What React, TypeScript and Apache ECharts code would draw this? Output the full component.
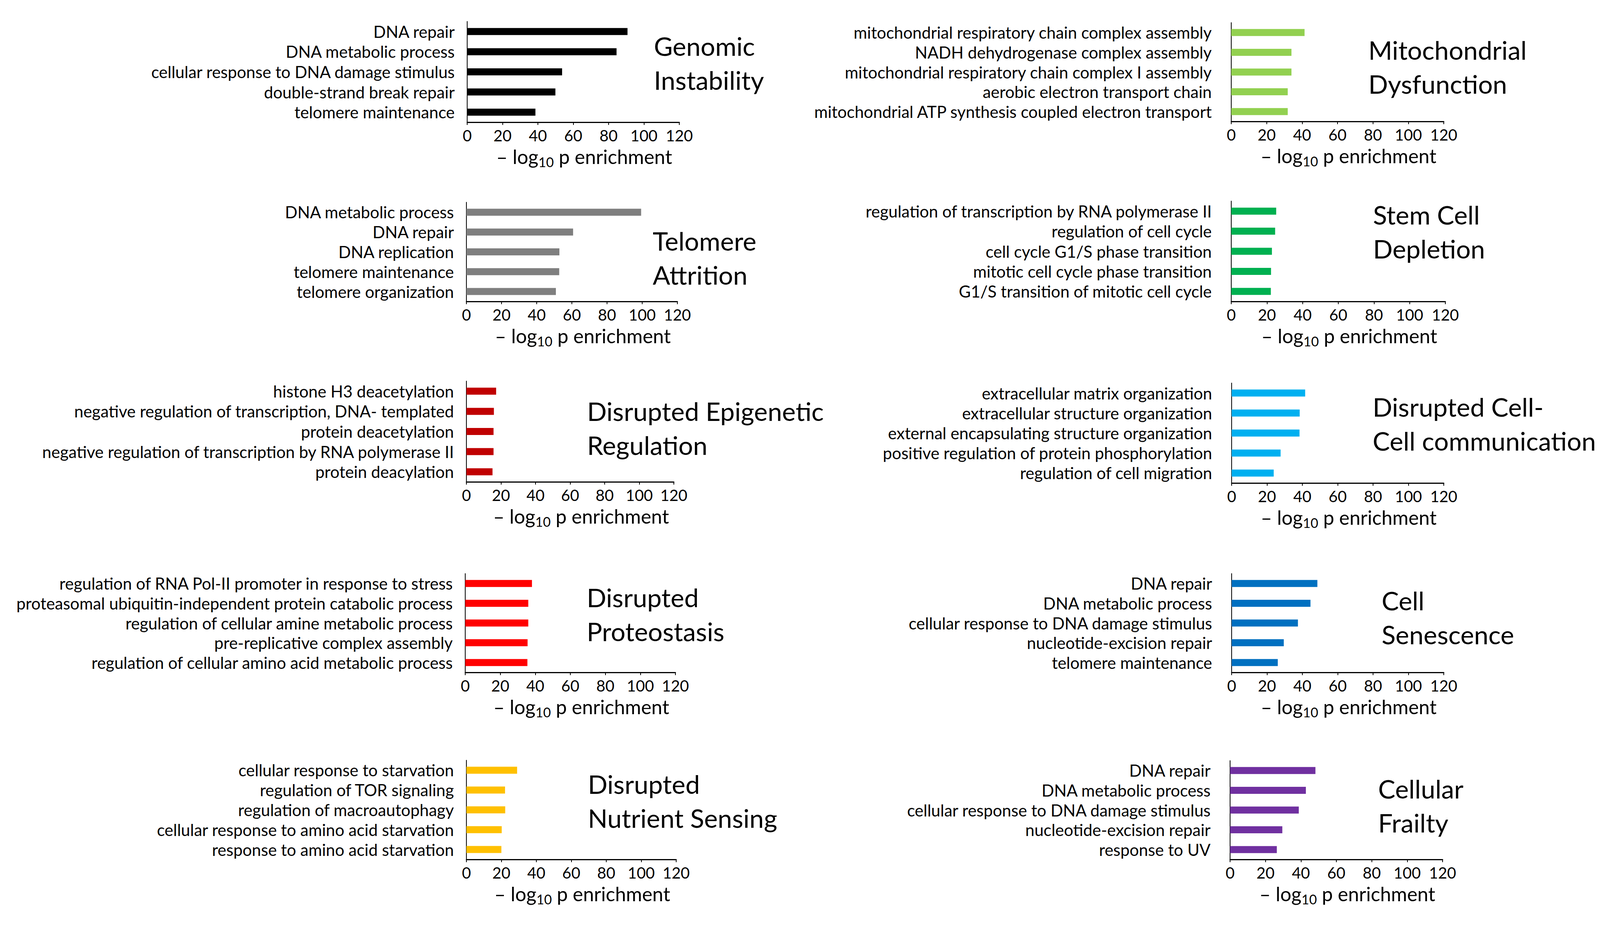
import React, { useEffect, useRef } from "react";
import * as echarts from "echarts";

// ---------- data ----------
const xMin = 0;
const xMax = 120;
const xStep = 20;

const genomicLabels = ["DNA repair", "DNA metabolic process", "cellular response to DNA damage stimulus", "double-strand break repair", "telomere maintenance"];
const genomicValues = [90.7, 84.5, 53.7, 49.9, 38.6];

const mitoLabels = ["mitochondrial respiratory chain complex assembly", "NADH dehydrogenase complex assembly", "mitochondrial respiratory chain complex I assembly", "aerobic electron transport chain", "mitochondrial ATP synthesis coupled electron transport"];
const mitoValues = [41.4, 34.0, 34.0, 31.9, 31.9];

const telomereLabels = ["DNA metabolic process", "DNA repair", "DNA replication", "telomere maintenance", "telomere organization"];
const telomereValues = [99.4, 60.7, 52.9, 52.8, 50.9];

const stemLabels = ["regulation of transcription by RNA polymerase II", "regulation of cell cycle", "cell cycle G1/S phase transition", "mitotic cell cycle phase transition", "G1/S transition of mitotic cell cycle"];
const stemValues = [25.2, 24.6, 22.8, 22.3, 22.2];

const epiLabels = ["histone H3 deacetylation", "negative regulation of transcription, DNA- templated", "protein deacetylation", "negative regulation of transcription by RNA polymerase II", "protein deacylation"];
const epiValues = [17.2, 15.9, 15.7, 15.7, 15.1];

const cellLabels = ["extracellular matrix organization", "extracellular structure organization", "external encapsulating structure organization", "positive regulation of protein phosphorylation", "regulation of cell migration"];
const cellValues = [41.6, 38.5, 38.4, 27.7, 23.8];

const proteoLabels = ["regulation of RNA Pol-II promoter in response to stress", "proteasomal ubiquitin-independent protein catabolic process", "regulation of cellular amine metabolic process", "pre-replicative complex assembly", "regulation of cellular amino acid metabolic process"];
const proteoValues = [38.1, 36.0, 36.0, 35.6, 35.5];

const senesLabels = ["DNA repair", "DNA metabolic process", "cellular response to DNA damage stimulus", "nucleotide-excision repair", "telomere maintenance"];
const senesValues = [48.5, 44.6, 37.5, 29.5, 26.1];

const nutrientLabels = ["cellular response to starvation", "regulation of TOR signaling", "regulation of macroautophagy", "cellular response to amino acid starvation", "response to amino acid starvation"];
const nutrientValues = [29.0, 22.1, 22.2, 20.2, 20.0];

const frailtyLabels = ["DNA repair", "DNA metabolic process", "cellular response to DNA damage stimulus", "nucleotide-excision repair", "response to UV"];
const frailtyValues = [48.2, 42.8, 38.8, 29.5, 26.4];

const titles = [
  "Genomic\nInstability",
  "Mitochondrial\nDysfunction",
  "Telomere\nAttrition",
  "Stem Cell\nDepletion",
  "Disrupted Epigenetic\nRegulation",
  "Disrupted Cell-\nCell communication",
  "Disrupted\nProteostasis",
  "Cell\nSenescence",
  "Disrupted\nNutrient Sensing",
  "Cellular\nFrailty",
];

// ---------- layout / style ----------
const FONT = "Lato, 'Open Sans', sans-serif";

const panels = [
  { labels: genomicLabels, values: genomicValues, color: "#000000", left: 1196, top: 55, width: 543, height: 258, tx: 1674, ty: 161, lm: 32 },
  { labels: mitoLabels, values: mitoValues, color: "#92D050", left: 3152, top: 58, width: 544, height: 253, tx: 3503, ty: 171, lm: 50 },
  { labels: telomereLabels, values: telomereValues, color: "#7F7F7F", left: 1194, top: 518, width: 540, height: 254, tx: 1671, ty: 660, lm: 32 },
  { labels: stemLabels, values: stemValues, color: "#00B050", left: 3152, top: 515, width: 548, height: 257, tx: 3515, ty: 593, lm: 50 },
  { labels: epiLabels, values: epiValues, color: "#C00000", left: 1194, top: 976, width: 531, height: 258, tx: 1503, ty: 1096, lm: 32 },
  { labels: cellLabels, values: cellValues, color: "#00B0F0", left: 3153, top: 981, width: 543, height: 256, tx: 3514, ty: 1085, lm: 50 },
  { labels: proteoLabels, values: proteoValues, color: "#FF0000", left: 1191, top: 1469, width: 538, height: 253, tx: 1502, ty: 1573, lm: 32 },
  { labels: senesLabels, values: senesValues, color: "#0070C0", left: 3153, top: 1469, width: 543, height: 253, tx: 3537, ty: 1581, lm: 50 },
  { labels: nutrientLabels, values: nutrientValues, color: "#FFC000", left: 1194, top: 1947, width: 537, height: 254, tx: 1505, ty: 2051, lm: 32 },
  { labels: frailtyLabels, values: frailtyValues, color: "#7030A0", left: 3149, top: 1948, width: 544, height: 253, tx: 3528, ty: 2063, lm: 50 },
];

function buildOption() {
  const grid = panels.map((p) => ({ left: p.left, top: p.top, width: p.width, height: p.height, containLabel: false }));
  const xAxis = panels.map((p, i) => ({
    type: "value",
    gridIndex: i,
    min: xMin,
    max: xMax,
    interval: xStep,
    splitLine: { show: false },
    axisLine: { show: true, onZero: false, lineStyle: { color: "#000", width: 3 } },
    axisTick: { show: true, length: 7, lineStyle: { color: "#000", width: 2 } },
    axisLabel: { color: "#000", fontSize: 40, fontFamily: FONT, margin: 14 },
    name: "{a|– log}{s|10}{a| p enrichment}",
    nameLocation: "middle",
    nameGap: 58,
    nameTextStyle: {
      padding: [0, 0, 0, 56],
      rich: {
        a: { fontSize: 50, fontFamily: FONT, color: "#000", lineHeight: 60 },
        s: { fontSize: 34, fontFamily: FONT, color: "#000", lineHeight: 34, padding: [26, 0, 0, 0] },
      },
    },
  }));
  const yAxis = panels.map((p, i) => ({
    type: "category",
    gridIndex: i,
    inverse: true,
    data: p.labels,
    axisLine: { show: true, lineStyle: { color: "#000", width: 2 } },
    axisTick: { show: false },
    splitLine: { show: false },
    axisLabel: { color: "#000", fontSize: 42, fontFamily: FONT, margin: p.lm, interval: 0 },
  }));
  const series = panels.map((p, i) => ({
    type: "bar",
    xAxisIndex: i,
    yAxisIndex: i,
    data: p.values,
    barWidth: 18,
    itemStyle: { color: p.color },
    silent: true,
  }));
  const graphic = panels.map((p, i) => ({
    type: "text",
    x: p.tx,
    y: p.ty,
    style: {
      text: titles[i],
      fontSize: 66,
      fontFamily: FONT,
      fill: "#000",
      lineHeight: 87,
      align: "left",
      verticalAlign: "middle",
    },
  }));
  return {
    animation: false,
    backgroundColor: "#ffffff",
    textStyle: { fontFamily: FONT },
    grid,
    xAxis,
    yAxis,
    series,
    graphic,
  };
}

export default function App() {
  const ref = useRef<HTMLDivElement | null>(null);
  useEffect(() => {
    if (!ref.current) return;
    const chart = echarts.init(ref.current, undefined, { renderer: "svg" });
    chart.setOption(buildOption() as any);
    return () => chart.dispose();
  }, []);
  return (
    <div
      ref={ref}
      style={{ position: "absolute", left: 0, top: 0, width: 4111, height: 2374, background: "#fff" }}
    />
  );
}
